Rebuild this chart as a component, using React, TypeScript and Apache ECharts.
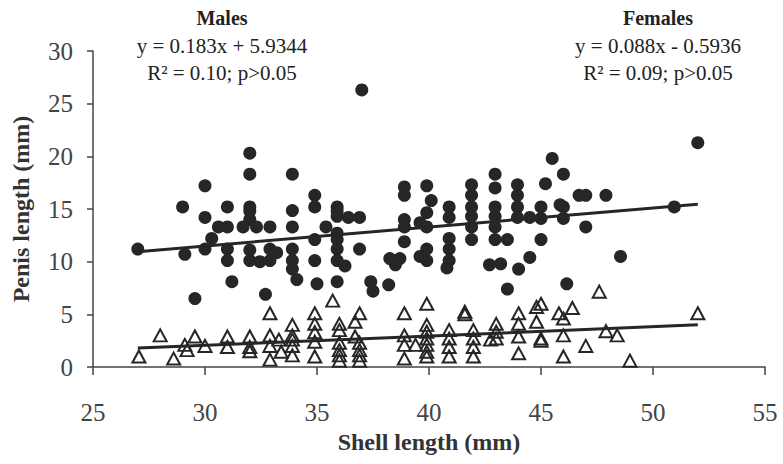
import React, { useEffect, useRef } from "react";
import * as echarts from "echarts";

const xTicks = [25, 30, 35, 40, 45, 50, 55];
const yTicks = [0, 5, 10, 15, 20, 25, 30];

const malesX = [
  27.0, 29.0, 29.1, 30.0, 30.0, 30.0, 30.3, 30.6, 31.0, 31.0, 31.0, 31.0,
  32.0, 32.0, 32.0, 32.0, 32.0, 31.7, 32.3, 32.0, 32.0, 32.45, 32.9, 32.9,
  32.9, 33.2, 33.9, 33.9, 33.9, 33.9, 33.9, 33.9, 34.1, 34.9, 34.9, 34.9,
  34.9, 31.2, 29.55, 32.7, 35.0, 37.0, 35.4, 35.9, 35.9, 35.9, 36.4, 36.9,
  35.9, 35.9, 35.9, 35.9, 36.9, 36.25, 38.25, 38.7, 38.5, 38.9, 38.9, 38.9,
  38.9, 38.9, 39.6, 39.9, 40.1, 39.9, 39.9, 39.9, 39.9, 39.6, 40.9, 40.9,
  40.9, 40.9, 40.9, 40.8, 41.9, 41.9, 41.9, 41.9, 41.9, 41.9, 42.95, 42.95,
  42.95, 42.95, 42.95, 42.95, 43.5, 43.95, 43.95, 43.95, 43.95, 44.5, 44.5,
  42.7, 43.2, 44.0, 35.9, 37.4, 37.5, 38.2, 43.5, 52.0, 45.5, 46.0, 45.2,
  45.0, 45.0, 45.0, 45.85, 46.0, 46.0, 46.7, 47.0, 47.9, 47.0, 50.95, 48.55,
  46.15,
];
const malesY = [
  11.2, 15.2, 10.7, 17.2, 14.2, 11.2, 12.2, 13.3, 15.2, 13.3, 11.2, 10.1,
  20.3, 18.3, 15.2, 14.8, 14.0, 13.3, 13.3, 11.1, 10.1, 10.0, 13.3, 11.2,
  10.1, 10.85, 18.3, 14.85, 13.3, 11.2, 10.1, 9.3, 8.3, 16.3, 15.2, 12.1,
  10.1, 8.1, 6.5, 6.9, 7.9, 26.3, 13.3, 15.2, 14.8, 14.3, 14.2, 14.2,
  12.7, 12.1, 11.2, 10.1, 11.2, 9.6, 10.3, 10.3, 9.7, 17.1, 16.3, 14.0,
  13.3, 11.9, 13.7, 17.2, 15.8, 14.65, 13.3, 11.2, 10.1, 10.5, 15.2, 14.2,
  12.2, 11.2, 10.1, 9.4, 17.3, 16.3, 15.2, 14.3, 13.3, 12.1, 18.3, 17.0,
  15.2, 14.3, 13.3, 12.1, 12.1, 17.3, 16.3, 15.2, 14.2, 14.2, 10.4,
  9.7, 9.8, 9.3, 8.1, 8.1, 7.2, 7.8, 7.4, 21.3, 19.8, 18.3, 17.4,
  15.2, 14.1, 12.1, 15.4, 15.2, 14.1, 16.3, 16.3, 16.3, 13.3, 15.2, 10.5,
  7.9,
];

const femalesX = [
  27.05, 28.0, 28.6, 29.1, 29.2, 29.55, 30.0, 31.0, 31.0, 32.0, 32.0, 32.0,
  32.9, 32.9, 32.9, 32.9, 33.3, 33.4, 33.9, 33.9, 33.9, 33.9, 33.9, 34.9,
  34.9, 34.9, 34.9, 34.9, 35.7, 36.0, 36.0, 36.0, 36.0, 36.0, 36.0, 36.9,
  36.7, 36.7, 36.9, 36.9, 36.9, 36.9, 38.9, 38.9, 38.9, 38.9, 39.4, 39.9,
  39.9, 39.9, 39.9, 39.9, 39.9, 39.9, 40.9, 40.9, 40.9, 40.9, 41.6, 41.6,
  41.98, 41.98, 41.98, 41.98, 42.75, 43.0, 43.0, 43.0, 44.0, 44.0, 44.0,
  44.0, 45.0, 44.8, 44.8, 45.0, 45.0, 45.8, 46.0, 46.4, 46.0, 46.0, 47.0,
  47.6, 47.9, 48.4, 48.97, 52.0,
];
const femalesY = [
  1.0, 3.0, 0.8, 2.1, 1.6, 2.9, 2.0, 2.9, 1.9, 2.9, 1.9, 1.5,
  5.1, 3.0, 2.0, 0.7, 2.6, 1.45, 4.0, 3.0, 2.6, 2.0, 1.1, 5.1,
  4.1, 3.3, 2.4, 1.0, 6.3, 4.1, 3.5, 2.3, 1.6, 1.1, 0.6, 5.1,
  4.3, 2.9, 2.3, 1.6, 1.1, 0.6, 5.1, 3.0, 2.1, 0.8, 2.1, 6.0,
  4.0, 3.35, 2.7, 2.1, 1.45, 1.0, 3.5, 2.7, 1.9, 1.0, 5.25, 5.0,
  3.5, 2.7, 1.9, 1.0, 2.6, 4.1, 3.35, 2.7, 5.1, 4.1, 2.9,
  1.3, 6.0, 5.7, 4.3, 2.7, 2.5, 5.1, 4.6, 5.6, 3.0, 1.0, 2.0,
  7.15, 3.4, 3.0, 0.6, 5.1,
];

const fitX = [27, 52];
const malesFitY = [10.95, 15.45];
const femalesFitY = [1.8, 4.0];

const malesText = ["Males", "y = 0.183x + 5.9344", "R² = 0.10; p>0.05"];
const femalesText = ["Females", "y = 0.088x - 0.5936", "R² = 0.09; p>0.05"];

const FONT = "'Liberation Serif', 'Times New Roman', serif";
const INK = "#262626";

export default function App() {
  const ref = useRef<HTMLDivElement>(null);
  useEffect(() => {
    if (!ref.current) return;
    const chart = echarts.init(ref.current, null, { renderer: "svg" });
    const pair = (xs: number[], ys: number[]) => xs.map((x, i) => [x, ys[i]]);
    const block = (lines: string[], cx: number) =>
      lines.map((t, i) => ({
        type: "text",
        x: cx,
        y: 18 + i * 27.5,
        style: {
          text: t,
          fill: "#222",
          font: `${i === 0 ? "bold 20px" : "21px"} ${FONT}`,
          textAlign: "center",
          textVerticalAlign: "middle",
        },
      }));
    chart.setOption({
      animation: false,
      backgroundColor: "#fff",
      grid: { left: 93, right: 18, top: 51, bottom: 97 },
      xAxis: {
        type: "value",
        min: xTicks[0],
        max: xTicks[xTicks.length - 1],
        interval: 5,
        name: "Shell length (mm)",
        nameLocation: "middle",
        nameGap: 61,
        nameTextStyle: { fontFamily: FONT, fontWeight: "bold", fontSize: 24, color: "#333" },
        axisLine: { lineStyle: { color: "#444", width: 1.5 } },
        axisTick: { length: 8, lineStyle: { color: "#444", width: 1.5 } },
        axisLabel: { fontFamily: FONT, fontSize: 25, color: "#444", margin: 33 },
        splitLine: { show: false },
      },
      yAxis: {
        type: "value",
        min: yTicks[0],
        max: yTicks[yTicks.length - 1],
        interval: 5,
        name: "Penis length (mm)",
        nameLocation: "middle",
        nameGap: 60,
        nameTextStyle: { fontFamily: FONT, fontWeight: "bold", fontSize: 24, color: "#333" },
        axisLine: { show: true, lineStyle: { color: "#444", width: 1.5 } },
        axisTick: { show: true, length: 6, lineStyle: { color: "#444", width: 1.5 } },
        axisLabel: { fontFamily: FONT, fontSize: 25, color: "#444", margin: 20 },
        splitLine: { show: false },
      },
      graphic: [...block(malesText, 222), ...block(femalesText, 658)],
      series: [
        {
          type: "scatter",
          name: "Males",
          data: pair(malesX, malesY),
          symbol: "circle",
          symbolSize: 13,
          itemStyle: { color: INK, opacity: 1 },
          z: 3,
        },
        {
          type: "scatter",
          name: "Females",
          data: pair(femalesX, femalesY),
          symbol: "triangle",
          symbolSize: [13, 12],
          itemStyle: { color: "rgba(255,255,255,0)", borderColor: INK, borderWidth: 2, opacity: 1 },
          z: 3,
        },
        {
          type: "line",
          data: pair(fitX, malesFitY),
          symbol: "none",
          lineStyle: { color: INK, width: 3 },
          z: 4,
        },
        {
          type: "line",
          data: pair(fitX, femalesFitY),
          symbol: "none",
          lineStyle: { color: INK, width: 3 },
          z: 4,
        },
      ],
    });
    return () => chart.dispose();
  }, []);
  return (
    <div
      ref={ref}
      style={{ position: "absolute", left: 0, top: 0, width: 783, height: 464 }}
    />
  );
}
